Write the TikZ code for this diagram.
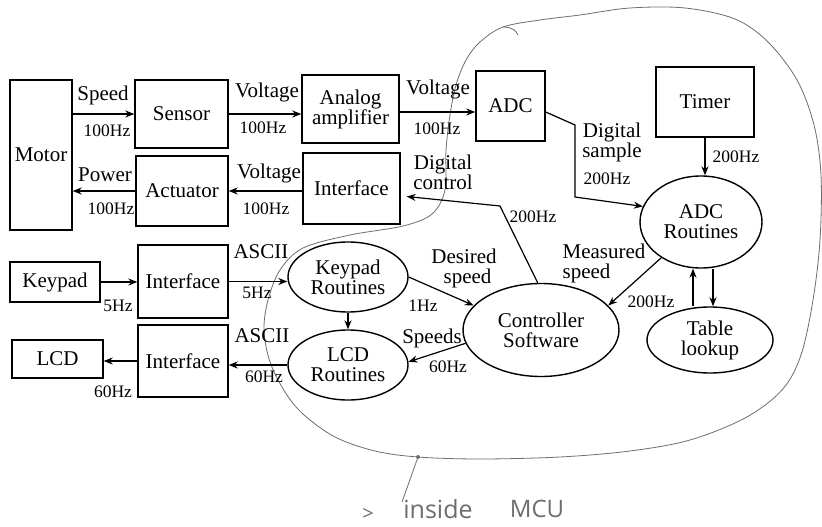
\documentclass[tikz,border=0pt]{standalone}
\usepackage{fontspec}
\setmainfont{Liberation Serif}
\newfontfamily\handfont{Open Sans}
\usetikzlibrary{shapes.geometric,arrows.meta,calc}

\newcommand\mainsz{\fontsize{21}{20}\selectfont}
\newcommand\hzsz{\fontsize{17.5}{18}\selectfont}
\definecolor{pencil}{RGB}{110,110,110}

\begin{document}
\begin{tikzpicture}[x=1pt,y=-1pt,
  box/.style={draw, rectangle, line width=1.4pt, inner sep=0pt, align=center, font=\mainsz},
  oval/.style={draw, ellipse, line width=1.4pt, inner sep=0pt, align=center, font=\mainsz},
  arr/.style={-{Stealth[length=9pt,width=7pt]}, line width=1.2pt},
  lbl/.style={inner sep=0pt, align=center, font=\mainsz},
  hz/.style={inner sep=0pt, font=\hzsz},
  hand/.style={draw=pencil, line width=0.8pt}]

\fill[white] (0,0) rectangle (822,527);
\useasboundingbox (0,0) rectangle (822,527);

% boundary of the microcontroller
\draw[hand] plot[smooth cycle, tension=0.55] coordinates {
  (445,190) (446,150) (450,115) (456,85) (466,60) (480,42) (503,27) (540,20)
  (580,15) (630,8) (685,8) (735,19) (768,42) (797,80) (814,125) (821,175)
  (820,240) (813,300) (801,355) (782,390) (745,418) (690,440) (630,451)
  (560,457) (480,459) (418,457) (375,451) (335,437) (303,414) (285,392)
  (270,362) (264,330) (268,300) (280,270) (303,248) (350,235) (403,226)
  (432,214)};
\draw[hand] (503,27) .. controls (511,27) and (516,30) .. (518,35);

% hardware blocks
\node[box, minimum width=62pt,  minimum height=150pt] (motor)    at (41,155)    {Motor};
\node[box, minimum width=93pt,  minimum height=68pt]  (sensor)   at (181.5,114) {Sensor};
\node[box, minimum width=97pt,  minimum height=68pt]  (amp)      at (350.5,109) {Analog\\amplifier};
\node[box, minimum width=69pt,  minimum height=70pt]  (adc)      at (510.5,106) {ADC};
\node[box, minimum width=98pt,  minimum height=70pt]  (timer)    at (705,102)   {Timer};
\node[box, minimum width=92pt,  minimum height=70pt]  (actuator) at (182,191)   {Actuator};
\node[box, minimum width=97pt,  minimum height=71pt]  (ifout)    at (351.5,188.5) {Interface};
\node[box, minimum width=90pt,  minimum height=40pt]  (keypad)   at (55,282)    {Keypad};
\node[box, minimum width=90pt,  minimum height=73pt]  (ifkey)    at (183,281.5) {Interface};
\node[box, minimum width=91pt,  minimum height=38pt]  (lcd)      at (57.5,359)  {LCD};
\node[box, minimum width=90pt,  minimum height=72pt]  (iflcd)    at (183,361)   {Interface};

% software blocks
\node[oval, minimum width=120pt, minimum height=70pt] (keyr)  at (348,277) {Keypad\\Routines};
\node[oval, minimum width=120pt, minimum height=70pt] (lcdr)  at (348,365) {LCD\\Routines};
\node[oval, minimum width=156pt, minimum height=93pt] (ctrl)  at (541,330) {Controller\\Software};
\node[oval, minimum width=122pt, minimum height=92pt] (adcr)  at (701,222) {ADC\\Routines};
\node[oval, minimum width=126pt, minimum height=66pt] (table) at (710,340) {Table\\lookup};

% bend points
\coordinate (s1) at (575,125);
\coordinate (s2) at (575,197);
\coordinate (c1) at (500,206);

% connectors
\draw[arr] (sensor.west -| motor.east) -- (sensor.west);
\draw[arr] (sensor.east) -- (sensor.east -| amp.west);
\draw[arr] ([yshift=-3pt]amp.east) -- ([yshift=-3pt]amp.east -| adc.west);
\draw[arr] ([yshift=-6pt]adc.east) -- (s1) -- (s2) -- (adcr.165);
\draw[arr] (timer.south) -- (timer.south |- adcr.north);
\draw[arr] (actuator.east -| ifout.west) -- (actuator.east);
\draw[arr] (actuator.west) -- (actuator.west -| motor.east);
\draw[arr] (ctrl.94) -- (c1) -- ([xshift=6pt,yshift=-8pt]ifout.east);
\draw[arr] (keypad.east) -- (keypad.east -| ifkey.west);
\draw[arr] (ifkey.east) -- (ifkey.east -| keyr.west);
\draw[arr] (keyr.east) -- (ctrl.160);
\draw[arr] (keyr.south) -- (lcdr.north);
\draw[arr] (ctrl.190) -- (lcdr.3);
\draw[arr] (lcdr.west) -- (lcdr.west -| iflcd.east);
\draw[arr] (iflcd.west) -- (iflcd.west -| lcd.east);
\draw[arr] (adcr.222) -- (ctrl.20);
\draw[arr] ([xshift=-17pt]table.north) -- ([xshift=-17pt]table.north |- adcr.south);
\draw[arr] ([xshift=12pt]adcr.south) -- ([xshift=12pt]adcr.south |- table.north);

% connector labels
\node[lbl] (l1)  at (103,95)  {Speed};
\node[hz]  (h1)  at (107,131) {100Hz};
\node[lbl] (l2)  at (267,92)  {Voltage};
\node[hz]  (h2)  at (263,128) {100Hz};
\node[lbl] (l3)  at (438,89)  {Voltage};
\node[hz]  (h3)  at (437,129) {100Hz};
\node[lbl] (l4)  at (612,142) {Digital\\sample};
\node[hz]  (h4)  at (607,179) {200Hz};
\node[hz]  (h5)  at (736,157) {200Hz};
\node[lbl] (l5)  at (105,175) {Power};
\node[hz]  (h6)  at (111,209) {100Hz};
\node[lbl] (l6)  at (269,173) {Voltage};
\node[hz]  (h7)  at (266,209) {100Hz};
\node[lbl] (l7)  at (443,172) {Digital\\control};
\node[hz]  (h8)  at (533,217) {200Hz};
\node[hz]  (h9)  at (118,306) {5Hz};
\node[lbl] (l8)  at (261,252) {ASCII};
\node[hz]  (h10) at (257,293) {5Hz};
\node[lbl] (l9)  at (262,336) {ASCII};
\node[hz]  (h11) at (264,377) {60Hz};
\node[hz]  (h12) at (113,392) {60Hz};
\node[lbl] (l10) at (460,268) {\hphantom{s}Desired\\\hphantom{D}speed};
\node[hz]  (h13) at (423,306) {1Hz};
\node[lbl] (l11) at (432,338) {Speeds};
\node[hz]  (h14) at (448,367) {60Hz};
\node[lbl, align=left] (l12) at (604,263) {Measured\\speed};
\node[hz]  (h15) at (651,302) {200Hz};

% handwritten note
\draw[hand] (418,457) -- (402,502);
\fill[pencil] (418,457) circle (2pt);
\node[inner sep=0pt, text=pencil, font=\handfont\fontsize{20}{20}\selectfont] (n1) at (368,514) {>};
\node[inner sep=0pt, text=pencil, font=\handfont\fontsize{25}{25}\selectfont] (n2) at (438,509) {inside};
\node[inner sep=0pt, text=pencil, font=\handfont\fontsize{24}{24}\selectfont] (n3) at (537,509) {MCU};
\end{tikzpicture}
\end{document}
